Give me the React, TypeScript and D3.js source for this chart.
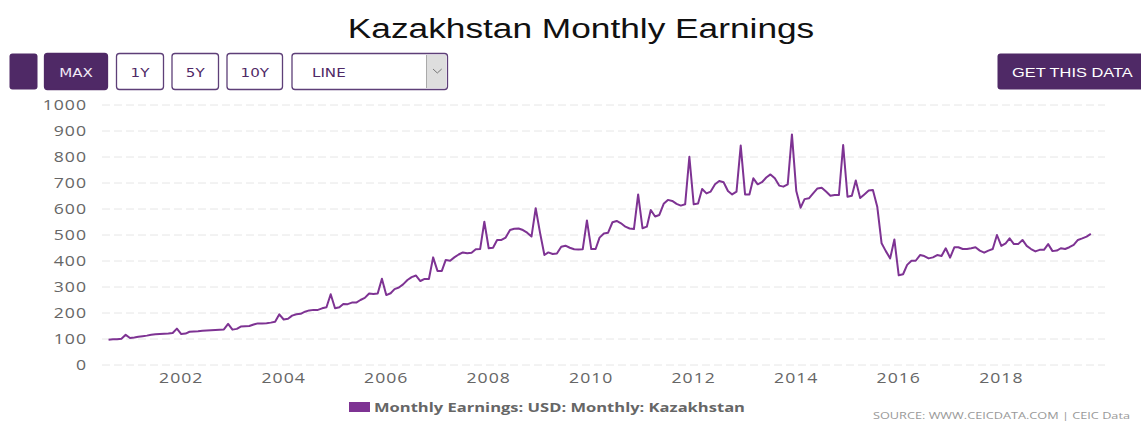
import React from "react";
import * as d3 from "d3";

// ---------- data ----------
const seriesStart = new Date(2000, 7, 1); // first observation: Aug 2000
const earnings2000 = [97, 99, 99, 101, 116];
const earnings2001 = [104, 106, 109, 111, 113, 116, 118, 119, 120, 121, 123, 140];
const earnings2002 = [119, 121, 128, 129, 130, 132, 133, 134, 135, 136, 137, 158];
const earnings2003 = [136, 139, 148, 149, 150, 156, 160, 160, 161, 163, 166, 195];
const earnings2004 = [175, 178, 190, 195, 197, 205, 210, 212, 212, 218, 222, 272];
const earnings2005 = [218, 222, 235, 234, 240, 240, 250, 258, 275, 273, 275, 332];
const earnings2006 = [269, 276, 292, 298, 310, 327, 338, 344, 323, 331, 331, 414];
const earnings2007 = [362, 362, 404, 401, 414, 425, 433, 430, 432, 445, 446, 551];
const earnings2008 = [449, 451, 481, 481, 490, 519, 524, 525, 519, 509, 494, 603];
const earnings2009 = [508, 423, 433, 427, 429, 455, 459, 451, 445, 444, 445, 556];
const earnings2010 = [446, 446, 490, 506, 509, 549, 554, 545, 532, 525, 523, 656];
const earnings2011 = [526, 532, 596, 571, 577, 620, 635, 631, 620, 613, 618, 801];
const earnings2012 = [618, 621, 677, 660, 667, 695, 708, 703, 669, 656, 667, 844];
const earnings2013 = [656, 656, 718, 695, 703, 721, 733, 718, 690, 686, 695, 887];
const earnings2014 = [669, 605, 638, 641, 660, 679, 682, 667, 651, 654, 654, 846];
const earnings2015 = [647, 651, 710, 642, 656, 671, 673, 609, 468, 438, 410, 483];
const earnings2016 = [345, 349, 385, 401, 401, 423, 419, 410, 414, 423, 419, 449];
const earnings2017 = [413, 453, 453, 446, 446, 449, 453, 440, 432, 440, 446, 500];
const earnings2018 = [458, 468, 487, 465, 465, 481, 458, 446, 437, 443, 443, 465];
const earnings2019 = [438, 440, 449, 446, 453, 462, 481, 487, 494, 504];

const monthlyEarnings = [
  ...earnings2000, ...earnings2001, ...earnings2002, ...earnings2003, ...earnings2004,
  ...earnings2005, ...earnings2006, ...earnings2007, ...earnings2008, ...earnings2009,
  ...earnings2010, ...earnings2011, ...earnings2012, ...earnings2013, ...earnings2014,
  ...earnings2015, ...earnings2016, ...earnings2017, ...earnings2018, ...earnings2019,
];

const yTicks = [0, 100, 200, 300, 400, 500, 600, 700, 800, 900, 1000];
const xTickYears = [2002, 2004, 2006, 2008, 2010, 2012, 2014, 2016, 2018];
const rangeButtons = ["MAX", "1Y", "5Y", "10Y"];
const chartTitle = "Kazakhstan Monthly Earnings";
const legendLabel = "Monthly Earnings: USD: Monthly: Kazakhstan";
const sourceLabel = "SOURCE: WWW.CEICDATA.COM | CEIC Data";
const chartTypeLabel = "LINE";
const ctaLabel = "GET THIS DATA";

// ---------- layout / style ----------
const W = 1141;
const H = 421;
const SX = 1.26; // horizontal stretch of the original rendering
const PURPLE_BTN = "#4f2966";
const LINE_COLOR = "#7e3393";
const AXIS_FONT = "'Open Sans', 'DejaVu Sans', sans-serif";
const BTN_FONT = "'DejaVu Sans', Verdana, sans-serif";

const points = monthlyEarnings.map((v, i) => ({
  date: new Date(seriesStart.getFullYear(), seriesStart.getMonth() + i, 1),
  value: v,
}));

const x = d3
  .scaleTime()
  .domain([new Date(2000, 5, 1), new Date(2020, 0, 10)])
  .range([100, 1105]);
const y = d3.scaleLinear().domain([0, 1000]).range([365, 105]);

const linePath = d3
  .line<{ date: Date; value: number }>()
  .x((d) => x(d.date))
  .y((d) => y(d.value))(points);

function SText(props: any) {
  const { x: tx, y: ty, children, ...rest } = props;
  return (
    <text transform={`translate(${tx},${ty}) scale(${SX},1)`} {...rest}>
      {children}
    </text>
  );
}

const btnGeom = [
  { x: 44.5, w: 63 },
  { x: 116.5, w: 47 },
  { x: 172, w: 46.5 },
  { x: 227, w: 55.5 },
];

export default function App() {
  return (
    <svg
      width={W}
      height={H}
      style={{ position: "absolute", left: 0, top: 0, background: "#fff" }}
    >
      <rect x={0} y={0} width={W} height={H} fill="#fff" />
      {/* title */}
      <SText
        x={581}
        y={38}
        textAnchor="middle"
        fontFamily="'Liberation Sans', Arial, sans-serif"
        fontSize={28}
        fill="#111"
      >
        {chartTitle}
      </SText>

      {/* buttons */}
      <rect x={9.5} y={53.5} width={28} height={36} rx={3} fill={PURPLE_BTN} />
      {rangeButtons.map((b, i) => {
        const g = btnGeom[i];
        const active = i === 0;
        return (
          <g key={b}>
            <rect
              x={g.x}
              y={53.5}
              width={g.w}
              height={36}
              rx={3}
              fill={active ? PURPLE_BTN : "#fff"}
              stroke={active ? PURPLE_BTN : "#5e3f78"}
              strokeWidth={1.3}
            />
            <SText
              x={g.x + g.w / 2}
              y={77}
              textAnchor="middle"
              fontFamily={BTN_FONT}
              fontSize={12}
              fill={active ? "#f1e9f6" : PURPLE_BTN}
            >
              {b}
            </SText>
          </g>
        );
      })}
      {/* select */}
      <rect x={292} y={53.5} width={155.5} height={36} rx={3} fill="#fff" stroke="#5e3f78" strokeWidth={1.3} />
      <rect x={426.5} y={55} width={19.5} height={33} fill="#dedede" />
      <line x1={426.5} y1={55} x2={426.5} y2={88} stroke="#aaa" strokeWidth={1} />
      <path d="M433,69 L437.3,73 L441.7,69" fill="none" stroke="#777" strokeWidth={1} />
      <SText x={312} y={77} fontFamily={BTN_FONT} fontSize={12} fill={PURPLE_BTN}>
        {chartTypeLabel}
      </SText>
      {/* CTA */}
      <rect x={997.5} y={53.5} width={170} height={36} rx={3} fill={PURPLE_BTN} />
      <SText x={1012} y={77} fontFamily="'Liberation Sans', Arial, sans-serif" fontSize={13} fill="#fff">
        {ctaLabel}
      </SText>

      {/* grid + y labels */}
      {yTicks.map((t) => (
        <g key={t}>
          <line
            x1={102}
            x2={1105}
            y1={y(t)}
            y2={y(t)}
            stroke="#e6e6e6"
            strokeWidth={1}
            strokeDasharray="8,4"
          />
          <SText
            x={87}
            y={y(t) + 5}
            textAnchor="end"
            fontFamily={AXIS_FONT}
            fontSize={14}
            letterSpacing={0.8}
            fill="#666"
          >
            {t}
          </SText>
        </g>
      ))}

      {/* x labels */}
      {xTickYears.map((yr) => (
        <SText
          key={yr}
          x={x(new Date(yr, 0, 1))}
          y={383}
          textAnchor="middle"
          fontFamily={AXIS_FONT}
          fontSize={14}
          letterSpacing={0.8}
          fill="#666"
        >
          {yr}
        </SText>
      ))}

      {/* series */}
      <path d={linePath || ""} fill="none" stroke={LINE_COLOR} strokeWidth={2} strokeLinejoin="round" />

      {/* legend */}
      <rect x={349} y={402} width={21} height={10} fill={LINE_COLOR} />
      <text
        x={374}
        y={411.5}
        fontFamily={AXIS_FONT}
        fontWeight="bold"
        fontSize={13}
        fill="#666"
        textLength={371}
        lengthAdjust="spacingAndGlyphs"
      >
        {legendLabel}
      </text>

      {/* source */}
      <text
        x={873}
        y={419}
        fontFamily={AXIS_FONT}
        fontSize={9}
        fill="#999"
        textLength={257}
        lengthAdjust="spacingAndGlyphs"
      >
        {sourceLabel}
      </text>
    </svg>
  );
}
